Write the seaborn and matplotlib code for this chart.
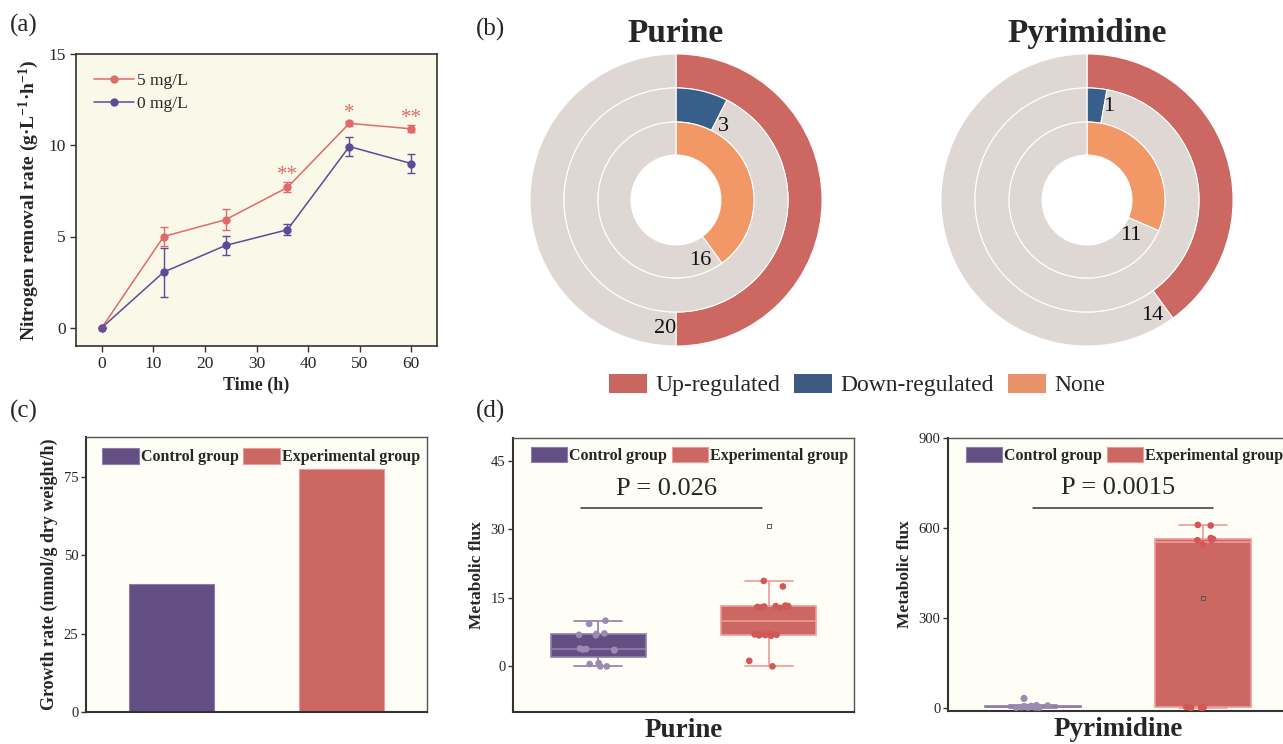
import numpy as np
import pandas as pd
import matplotlib
matplotlib.use('Agg')
import matplotlib.pyplot as plt
from matplotlib.patches import Patch
from matplotlib.lines import Line2D
import seaborn as sns

# ---- data ----
# (a) nitrogen removal rate
time_h = [0, 12, 24, 36, 48, 60]
rate_5mg = [0, 5.0, 5.92, 7.69, 11.2, 10.9]
err_5mg = [0, 0.52, 0.57, 0.27, 0.15, 0.2]
rate_0mg = [0, 3.05, 4.51, 5.37, 9.93, 9.0]
err_0mg = [0, 1.34, 0.52, 0.3, 0.52, 0.51]
star_times = [36, 48, 60]
star_text = ['**', '*', '**']
star_y = [8.35, 11.75, 11.45]

# (b) ring counts
reg_labels = ['Up-regulated', 'Down-regulated', 'None']
purine_counts = [20, 3, 16]
purine_total = 40
pyrimidine_counts = [14, 1, 11]
pyrimidine_total = 35

# (c) growth rate
groups = ['Control group', 'Experimental group']
growth_rate = [40.7, 77.4]

# (d) metabolic flux
purine_ctrl = [0, 0, 0.5, 0.7, 3.5, 3.6, 3.7, 3.8, 3.9, 6.8, 6.9, 7.1, 7.2, 9.3, 10.0]
purine_exp = [0, 1.2, 6.7, 6.8, 6.85, 6.9, 6.9, 7.0, 7.0, 7.1,
              12.8, 12.9, 13.0, 13.1, 13.1, 13.2, 13.2, 13.3, 17.5, 18.7]
pyr_ctrl = [0, 0, 0.5, 1, 1.5, 2, 3, 4, 5, 6, 7, 8, 30.5, 31.5]
pyr_exp = [0, 0, 0.5, 1, 3, 545, 559, 560, 563, 566, 608, 610]
exp_mark = [30.7, 367]
p_values = ['P = 0.026', 'P = 0.0015']

# ---- style ----
sns.set_theme(style='ticks')
plt.rcParams['font.family'] = ['Liberation Serif', 'DejaVu Serif']
plt.rcParams['mathtext.fontset'] = 'custom'
plt.rcParams['mathtext.rm'] = 'Liberation Serif'
plt.rcParams['mathtext.bf'] = 'Liberation Serif:bold'
plt.rcParams['mathtext.it'] = 'Liberation Serif:italic'

red_line = '#E06A6A'
purple_line = '#5C4B97'
box_fill = ['#644F84', '#CC6761']
box_line = ['#8E7EAA', '#F09A9A']
dot_col = ['#9B8BAE', '#D25858']
ring_cols = ['#CD6762', '#385E8A', '#F29766']
ring_gray = '#DED7D3'

W, H = 1283, 744
fig = plt.figure(figsize=(W / 100, H / 100), dpi=100)


def px(l, t, r, b):
    return [l / W, 1 - b / H, (r - l) / W, (b - t) / H]


def frame(ax, lw=1.2, col='#333333'):
    for s in ax.spines.values():
        s.set_visible(True)
        s.set_color(col)
        s.set_linewidth(lw)


# ---- (a) ----
ax = fig.add_axes(px(76, 54, 437, 346))
ax.set_facecolor('#FAF8E8')
df_a = pd.DataFrame({'time': time_h * 2,
                     'rate': rate_5mg + rate_0mg,
                     'dose': ['5 mg/L'] * 6 + ['0 mg/L'] * 6})
sns.lineplot(data=df_a, x='time', y='rate', hue='dose', palette=[red_line, purple_line],
             marker='o', markersize=6, markeredgewidth=0, linewidth=1.1, legend=False, ax=ax)
ax.errorbar(time_h, rate_5mg, yerr=err_5mg, fmt='none', ecolor=red_line, elinewidth=1, capsize=3)
ax.errorbar(time_h, rate_0mg, yerr=err_0mg, fmt='none', ecolor=purple_line, elinewidth=1, capsize=3)
for t, s, y in zip(star_times, star_text, star_y):
    ax.text(t, y, s, color=red_line, ha='center', va='center', fontsize=15)
ax.set_xlim(-5, 65)
ax.set_ylim(-1, 15)
ax.set_xticks(range(0, 61, 10))
ax.set_yticks([0, 5, 10, 15])
ax.tick_params(labelsize=12.5, length=4, width=1, color='#333333')
ax.set_xlabel('Time (h)', fontweight='bold', fontsize=13, labelpad=3)
ax.set_ylabel('Nitrogen removal rate (g·L$^{\\mathbf{-1}}$·h$^{\\mathbf{-1}}$)',
              fontweight='bold', fontsize=14, labelpad=5)
frame(ax)
handles = [Line2D([], [], color=red_line, marker='o', markersize=6, lw=1.1, markeredgewidth=0),
           Line2D([], [], color=purple_line, marker='o', markersize=6, lw=1.1, markeredgewidth=0)]
ax.legend(handles, ['5 mg/L', '0 mg/L'], loc='upper left', bbox_to_anchor=(0.03, 0.96),
          frameon=False, fontsize=12.5, handlelength=2.3, handletextpad=0.2, labelspacing=0.4,
          borderaxespad=0)

# ---- (b) ----
ring_r = [1.0, 0.767, 0.534]
ring_w = [0.233, 0.233, 0.226]


def donut(ax, counts, total, title, label_pos):
    for cnt, col, r, w in zip(counts, ring_cols, ring_r, ring_w):
        ax.pie([cnt, total - cnt], radius=r, startangle=90, counterclock=False,
               colors=[col, ring_gray], wedgeprops=dict(width=w, edgecolor='white', linewidth=0.8))
    for cnt, (delta, rr) in zip(counts, label_pos):
        ang = np.deg2rad(360 * cnt / total + delta)
        ax.text(rr * np.sin(ang), rr * np.cos(ang), str(cnt), ha='center', va='center',
                fontsize=16, color='#111111')
    ax.set_xlim(-1.027, 1.027)
    ax.set_ylim(-1.027, 1.027)
    ax.set_title(title, fontweight='bold', fontsize=24, pad=6)


ax = fig.add_axes(px(526, 50, 826, 350))
donut(ax, purine_counts, purine_total, 'Purine', [(5, 0.88), (6, 0.6), (14, 0.45)])
ax = fig.add_axes(px(937, 50, 1237, 350))
donut(ax, pyrimidine_counts, pyrimidine_total, 'Pyrimidine', [(6.5, 0.905), (3, 0.656), (15.6, 0.385)])

fig.legend([Patch(facecolor=c, edgecolor='none') for c in ['#C9665F', '#3F5A80', '#E8926A']],
           reg_labels, loc='center', bbox_to_anchor=(857 / W, 1 - 385 / H), ncol=3, frameon=False,
           fontsize=17, handlelength=1.6, handleheight=0.9, handletextpad=0.35, columnspacing=0.6)


def group_legend(ax, anchor):
    hs = [Patch(facecolor=f, edgecolor=l, linewidth=0.8) for f, l in zip(box_fill, box_line)]
    ax.legend(hs, groups, ncol=2, loc='upper left', bbox_to_anchor=anchor, frameon=False,
              prop=dict(weight='bold', size=11.5), handlelength=2.3, handleheight=1.1,
              handletextpad=0.1, columnspacing=0.3, borderpad=0, borderaxespad=0)


def box_frame(ax):
    for s in ['left', 'bottom']:
        ax.spines[s].set_color('#333333')
        ax.spines[s].set_linewidth(1.5)
    for s in ['top', 'right']:
        ax.spines[s].set_visible(True)
        ax.spines[s].set_color('#555555')
        ax.spines[s].set_linewidth(1.0)
    ax.tick_params(axis='y', labelsize=10.5, length=3.5, width=1, color='#333333', pad=2)
    ax.tick_params(axis='x', length=0)


# ---- (c) ----
ax = fig.add_axes(px(86, 437, 427, 712))
ax.set_facecolor('#FEFEF7')
sns.barplot(x=groups, y=growth_rate, hue=groups, palette=box_fill, saturation=1, width=0.5,
            legend=False, ax=ax)
for bar, ec in zip(ax.patches, box_line):
    bar.set_edgecolor(ec)
    bar.set_linewidth(0.8)
ax.set_xlim(-0.5, 1.5)
ax.set_ylim(0, 87.7)
ax.set_yticks([0, 25, 50, 75])
ax.set_xticks([])
ax.set_ylabel('Growth rate (mmol/g dry weight/h)', fontweight='bold', fontsize=13, labelpad=4)
box_frame(ax)
group_legend(ax, (0.048, 0.959))

# ---- (d) ----
np.random.seed(3)


def flux_panel(rect, ctrl, exp, mark, ylim, yticks, p_text, p_x, p_y, xlabel):
    ax = fig.add_axes(rect)
    ax.set_facecolor('#FEFEF7')
    df = pd.DataFrame({'group': [groups[0]] * len(ctrl) + [groups[1]] * len(exp),
                       'flux': ctrl + exp})
    for g, fill, line in zip(groups, box_fill, box_line):
        sns.boxplot(data=df[df['group'] == g], x='group', y='flux', order=groups, color=fill,
                    linecolor=line, saturation=1, width=0.56, fliersize=0, linewidth=1.2, ax=ax)
    sns.stripplot(data=df, x='group', y='flux', hue='group', order=groups, palette=dot_col,
                  jitter=0.12, size=4.8, legend=False, ax=ax)
    ax.scatter([1], [mark], marker='s', s=9, facecolor='none', edgecolor='#555555',
               linewidth=0.7, zorder=5)
    ax.plot(p_x, [p_y[0], p_y[0]], color='#333333', lw=1.1)
    ax.text(np.mean(p_x) - 0.03, p_y[1], p_text, ha='center', va='center', fontsize=19)
    ax.set_xlim(-0.5, 1.5)
    ax.set_ylim(*ylim)
    ax.set_yticks(yticks)
    ax.set_xticks([])
    ax.set_xlabel(xlabel, fontweight='bold', fontsize=19.5, labelpad=4)
    ax.set_ylabel('Metabolic flux', fontweight='bold', fontsize=12.5, labelpad=4)
    box_frame(ax)
    group_legend(ax, (0.052, 0.967))
    return ax


flux_panel(px(513, 438, 854, 712), purine_ctrl, purine_exp, exp_mark[0], (-10, 50),
           [0, 15, 30, 45], p_values[0], [-0.1, 0.96], [34.7, 38.9], 'Purine')
flux_panel(px(948, 438, 1288, 711), pyr_ctrl, pyr_exp, exp_mark[1], (-11, 900),
           [0, 300, 600, 900], p_values[1], [0.0, 1.06], [668, 732], 'Pyrimidine')

# panel labels
for lab, x, y in [('(a)', 10, 25), ('(b)', 476, 29), ('(c)', 10, 411), ('(d)', 476, 411)]:
    fig.text(x / W, 1 - y / H, lab, fontsize=18, ha='left', va='center')

fig.savefig('out.png', dpi=100)
